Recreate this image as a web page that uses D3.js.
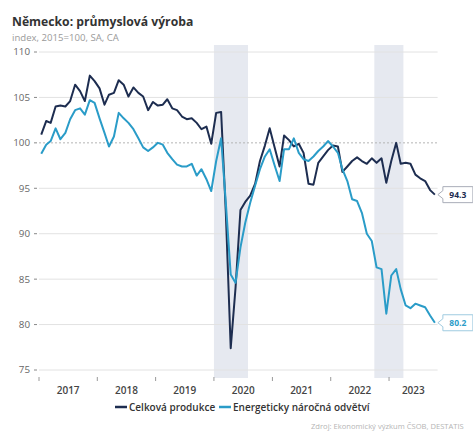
<!DOCTYPE html>
<html>
<head>
<meta charset="utf-8">
<script src="https://cdn.jsdelivr.net/npm/d3@7"></script>
<style>
    body { margin: 0; background: #fff; }
    svg { font-family: "Open Sans", "Noto Sans", sans-serif; display: block; }
</style>
</head>
<body>
<div id="chart"></div>
<script>
// Data: monthly, Jan 2017 - Oct 2023 (index 2015=100)
const startMonth = new Date(2017, 0, 1);
const totalProduction = [
    100.9, 102.4, 102.2, 104.0, 104.1, 104.0, 104.6, 106.4, 105.7, 104.6, 107.4, 106.8,
    106.0, 104.2, 105.3, 105.5, 106.9, 106.4, 105.1, 106.1, 105.5, 105.1, 103.6, 104.5,
    104.1, 104.2, 104.8, 103.8, 103.6, 102.9, 102.6, 102.7, 102.2, 101.5, 101.8, 99.9,
    103.3, 103.4, 92.5, 77.4, 84.0, 92.6, 93.5, 94.2, 95.5, 98.0, 99.7, 101.6,
    99.5, 97.4, 100.8, 100.3, 99.6, 99.9, 98.9, 95.5, 95.4, 97.8, 98.5, 99.2,
    99.7, 99.6, 96.8, 97.4, 98.0, 98.4, 98.0, 97.7, 98.3, 97.8, 98.3, 95.6,
    98.0, 100.0, 97.7, 97.8, 97.7, 96.5, 96.1, 95.8, 94.8, 94.3
];
const energyIntensive = [
    98.8, 99.8, 100.2, 101.6, 100.4, 101.1, 102.6, 103.6, 103.8, 103.1, 104.7, 104.4,
    102.7, 101.1, 99.6, 100.7, 103.3, 102.7, 102.2, 101.5, 100.5, 99.5, 99.1, 99.5,
    100.0, 99.8, 98.9, 98.2, 97.6, 97.4, 97.4, 97.7, 96.4, 97.1, 96.0, 94.7,
    98.0, 100.5, 93.5, 85.5, 84.6, 88.5, 91.2, 93.4, 95.3, 97.1, 98.5, 99.3,
    97.5, 95.8, 99.3, 99.3, 100.5, 98.9, 98.2, 98.0, 98.5, 99.1, 99.6, 100.2,
    99.6, 98.9, 97.1, 95.8, 93.8, 93.6, 92.3, 90.0, 89.2, 86.3, 86.1, 81.2,
    85.4, 86.1, 83.9, 82.1, 81.8, 82.3, 82.1, 81.9, 81.0, 80.2
];
const seriesNames = ['Celková produkce', 'Energeticky náročná odvětví'];
const yTicks = [75, 80, 85, 90, 95, 100, 105, 110];
const years = [2017, 2018, 2019, 2020, 2021, 2022, 2023];
const recessions = [
    [new Date(2020, 0, 1), new Date(2020, 7, 1)],
    [new Date(2022, 9, 1), new Date(2023, 3, 1)]
];

// Configuration
const config = {
    width: 473,
    height: 432,
    left: 39,
    right: 437.6,
    top: 52,
    bottom: 370,
    colors: ['#1d2d50', '#2a9cc8'],
    lineWidth: 2
};

const svg = d3.select('#chart')
    .append('svg')
    .attr('width', config.width)
    .attr('height', config.height);

const monthDate = i => new Date(startMonth.getFullYear(), startMonth.getMonth() + i, 15);
const endDate = new Date(2023, 10, 1);

const x = d3.scaleTime()
    .domain([startMonth, endDate])
    .range([config.left, config.right]);

const y = d3.scaleLinear()
    .domain([75, 110])
    .range([config.bottom, config.top]);

// Title
svg.append('text')
    .attr('x', 12).attr('y', 26)
    .attr('font-size', 12.2).attr('font-weight', 700).attr('fill', '#333')
    .text('Německo: průmyslová výroba');
svg.append('text')
    .attr('x', 12).attr('y', 41)
    .attr('font-size', 9.6).attr('fill', '#9a9a9a')
    .text('index, 2015=100, SA, CA');

// Recession bands
svg.append('g')
    .selectAll('rect')
    .data(recessions)
    .enter()
    .append('rect')
    .attr('x', d => x(d[0]))
    .attr('width', d => x(d[1]) - x(d[0]))
    .attr('y', 45)
    .attr('height', 333)
    .attr('fill', '#e6e9f0');

// Grid + y labels
const grid = svg.append('g');
grid.selectAll('line')
    .data(yTicks)
    .enter()
    .append('line')
    .attr('x1', config.left)
    .attr('x2', config.right)
    .attr('y1', d => y(d))
    .attr('y2', d => y(d))
    .attr('stroke', d => d === 100 ? '#b5b5b5' : '#e2e2e2')
    .attr('stroke-dasharray', d => d === 100 ? '2,2' : null)
    .attr('stroke-width', 1);

grid.selectAll('.tickmark')
    .data(yTicks)
    .enter()
    .append('line')
    .attr('x1', 34).attr('x2', 37)
    .attr('y1', d => y(d)).attr('y2', d => y(d))
    .attr('stroke', '#888');

grid.selectAll('text')
    .data(yTicks)
    .enter()
    .append('text')
    .attr('x', 30)
    .attr('y', d => y(d))
    .attr('dy', '0.35em')
    .attr('text-anchor', 'end')
    .attr('font-size', 9.8)
    .attr('fill', '#666')
    .text(d => d);

// X axis ticks and year labels
const xAxis = svg.append('g');
xAxis.selectAll('line')
    .data(years)
    .enter()
    .append('line')
    .attr('x1', d => x(new Date(d, 0, 1)))
    .attr('x2', d => x(new Date(d, 0, 1)))
    .attr('y1', 377).attr('y2', 381)
    .attr('stroke', '#999');

xAxis.selectAll('text')
    .data(years)
    .enter()
    .append('text')
    .attr('x', d => {
        const a = x(new Date(d, 0, 1));
        const b = x(d3.min([new Date(d + 1, 0, 1), endDate]));
        return (a + b) / 2;
    })
    .attr('y', 394)
    .attr('text-anchor', 'middle')
    .attr('font-size', 10)
    .attr('font-weight', 600)
    .attr('fill', '#444')
    .text(d => d);

// Lines
const line = d3.line()
    .x((d, i) => x(monthDate(i)))
    .y(d => y(d));

[totalProduction, energyIntensive].forEach((series, k) => {
    svg.append('path')
        .datum(series)
        .attr('fill', 'none')
        .attr('stroke', config.colors[k])
        .attr('stroke-width', config.lineWidth)
        .attr('stroke-linejoin', 'round')
        .attr('d', line);
});

// End value callouts
[energyIntensive, totalProduction].forEach(series => {
    const k = series === totalProduction ? 0 : 1;
    const last = series.length - 1;
    const px = x(monthDate(last)) + 3;
    const py = y(series[last]);
    const w = 30, h = 16, tip = 5;
    const g = svg.append('g').attr('transform', `translate(${px},${py})`);
    g.append('path')
        .attr('d', `M0,0 L${tip},-4 L${tip},${-h / 2} L${tip + w},${-h / 2} L${tip + w},${h / 2} L${tip},${h / 2} L${tip},4 Z`)
        .attr('fill', '#fff')
        .attr('stroke', k === 0 ? '#a9adb8' : '#9fcbe0')
        .attr('stroke-width', 1);
    g.append('text')
        .attr('x', tip + w / 2)
        .attr('dy', '0.35em')
        .attr('text-anchor', 'middle')
        .attr('font-size', 8.5)
        .attr('font-weight', 700)
        .attr('fill', config.colors[k])
        .text(series[last].toFixed(1));
});

// Legend
const legendX = [115, 219];
seriesNames.forEach((name, k) => {
    svg.append('line')
        .attr('x1', legendX[k]).attr('x2', legendX[k] + 12)
        .attr('y1', 407).attr('y2', 407)
        .attr('stroke', config.colors[k])
        .attr('stroke-width', 2.5);
    svg.append('text')
        .attr('x', legendX[k] + 14)
        .attr('y', 410.5)
        .attr('font-size', 10)
        .attr('font-weight', 600)
        .attr('fill', '#333')
        .text(name);
});

// Source
svg.append('text')
    .attr('x', 311).attr('y', 429)
    .attr('font-size', 7.6)
    .attr('fill', '#b5b5b5')
    .text('Zdroj: Ekonomický výzkum ČSOB, DESTATIS');
</script>
</body>
</html>
